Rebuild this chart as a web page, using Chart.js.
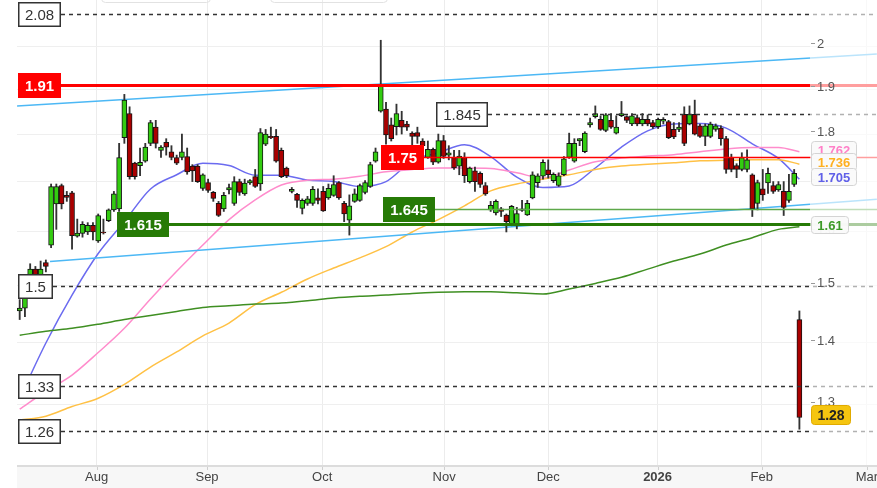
<!DOCTYPE html>
<html>
<head>
<meta charset="utf-8">
<script src="https://cdn.jsdelivr.net/npm/chart.js@4.4.1/dist/chart.umd.min.js"></script>
<style>
  html, body { margin: 0; padding: 0; background: #fff; }
  #wrap { width: 877px; height: 488px; position: relative; }
</style>
</head>
<body>
<div id="wrap"><canvas id="chart"></canvas></div>
<script>
// daily candles, index 0 = first session on screen
const opens = [1.455,1.46,1.49,1.53,1.515,1.542,1.575,1.655,1.692,1.672,
  1.677,1.592,1.597,1.6,1.613,1.583,1.6,1.622,1.643,1.645,
  1.792,1.845,1.738,1.733,1.742,1.78,1.815,1.765,1.782,1.762,
  1.75,1.75,1.752,1.732,1.732,1.686,1.698,1.678,1.656,1.645,
  1.683,1.656,1.7,1.675,1.697,1.71,1.695,1.778,1.795,1.795,
  1.765,1.728,1.68,1.674,1.646,1.656,1.656,1.667,1.68,1.667,
  1.672,1.698,1.656,1.623,1.66,1.662,1.678,1.69,1.742,1.85,
  1.855,1.82,1.816,1.83,1.822,1.802,1.803,1.785,1.75,1.767,
  1.74,1.786,1.755,1.75,1.732,1.75,1.7,1.722,1.717,1.692,
  1.643,1.637,1.645,1.633,1.616,1.612,1.645,1.633,1.667,1.698,
  1.711,1.724,1.702,1.692,1.714,1.75,1.742,1.785,1.762,1.82,
  1.838,1.832,1.808,1.83,1.802,1.84,1.838,1.822,1.836,1.822,
  1.832,1.825,1.816,1.828,1.827,1.81,1.81,1.843,1.822,1.843,
  1.818,1.795,1.795,1.81,1.813,1.79,1.75,1.733,1.725,1.725,
  1.714,1.656,1.685,1.697,1.692,1.683,1.68,1.662,1.694,1.44];
const highs = [1.475,1.49,1.54,1.535,1.545,1.547,1.695,1.695,1.695,1.68,
  1.68,1.625,1.62,1.618,1.618,1.635,1.625,1.645,1.68,1.78,
  1.888,1.86,1.74,1.77,1.78,1.83,1.83,1.775,1.79,1.775,
  1.755,1.8,1.77,1.735,1.735,1.716,1.705,1.68,1.66,1.678,
  1.695,1.71,1.705,1.705,1.704,1.725,1.812,1.81,1.815,1.81,
  1.77,1.73,1.688,1.676,1.665,1.67,1.69,1.685,1.69,1.695,
  1.712,1.7,1.66,1.673,1.685,1.695,1.702,1.74,1.77,2.015,
  1.87,1.835,1.866,1.85,1.828,1.805,1.815,1.79,1.785,1.77,
  1.8,1.797,1.775,1.765,1.765,1.76,1.73,1.73,1.72,1.698,
  1.66,1.663,1.648,1.635,1.652,1.648,1.662,1.662,1.72,1.716,
  1.745,1.745,1.718,1.718,1.752,1.802,1.79,1.79,1.805,1.835,
  1.862,1.84,1.845,1.845,1.84,1.872,1.84,1.845,1.842,1.845,
  1.842,1.83,1.835,1.836,1.83,1.825,1.825,1.86,1.862,1.875,
  1.822,1.822,1.826,1.822,1.818,1.795,1.757,1.737,1.76,1.766,
  1.716,1.703,1.725,1.728,1.7,1.7,1.7,1.715,1.725,1.455];
const lows = [1.44,1.445,1.485,1.505,1.505,1.525,1.57,1.605,1.645,1.66,
  1.567,1.59,1.59,1.595,1.585,1.58,1.596,1.62,1.64,1.64,
  1.78,1.705,1.705,1.712,1.74,1.775,1.77,1.75,1.755,1.745,
  1.735,1.745,1.715,1.70,1.698,1.682,1.678,1.66,1.63,1.64,
  1.675,1.652,1.672,1.672,1.694,1.688,1.682,1.775,1.79,1.74,
  1.708,1.708,1.677,1.648,1.635,1.652,1.652,1.655,1.64,1.664,
  1.67,1.664,1.62,1.594,1.658,1.66,1.675,1.688,1.74,1.848,
  1.778,1.785,1.798,1.8,1.808,1.775,1.78,1.763,1.748,1.735,
  1.738,1.748,1.745,1.725,1.714,1.698,1.697,1.68,1.688,1.672,
  1.64,1.633,1.63,1.6,1.612,1.606,1.64,1.632,1.665,1.688,
  1.705,1.707,1.698,1.69,1.712,1.748,1.74,1.775,1.76,1.815,
  1.835,1.808,1.805,1.812,1.8,1.838,1.825,1.818,1.818,1.818,
  1.818,1.812,1.812,1.822,1.79,1.79,1.805,1.775,1.82,1.798,
  1.793,1.775,1.792,1.806,1.776,1.717,1.72,1.708,1.722,1.72,
  1.63,1.643,1.662,1.676,1.676,1.68,1.632,1.658,1.69,1.262];
const closes = [1.46,1.485,1.53,1.515,1.53,1.535,1.69,1.69,1.655,1.668,
  1.593,1.598,1.615,1.613,1.6,1.632,1.598,1.643,1.675,1.75,
  1.875,1.71,1.71,1.74,1.772,1.825,1.78,1.772,1.772,1.75,
  1.738,1.762,1.72,1.722,1.70,1.714,1.682,1.666,1.632,1.672,
  1.688,1.7,1.678,1.697,1.702,1.69,1.803,1.8,1.792,1.742,
  1.71,1.712,1.684,1.662,1.662,1.665,1.684,1.662,1.641,1.686,
  1.694,1.667,1.635,1.651,1.675,1.692,1.698,1.735,1.762,1.91,
  1.798,1.79,1.845,1.815,1.815,1.795,1.795,1.775,1.767,1.74,
  1.786,1.752,1.76,1.728,1.753,1.712,1.728,1.7,1.694,1.675,
  1.652,1.66,1.64,1.62,1.65,1.636,1.642,1.656,1.714,1.712,
  1.74,1.714,1.715,1.712,1.747,1.78,1.78,1.79,1.802,1.825,
  1.845,1.81,1.842,1.815,1.815,1.845,1.83,1.84,1.822,1.832,
  1.822,1.816,1.832,1.832,1.792,1.794,1.815,1.78,1.843,1.8,
  1.795,1.818,1.822,1.818,1.79,1.725,1.725,1.725,1.75,1.745,
  1.645,1.698,1.673,1.717,1.68,1.694,1.648,1.68,1.717,1.28];

const maIdx = [0,5,10,15,20,25,30,35,40,45,50,55,60,65,70,75,80,85,90,95,100,105,110,115,120,125,130,135,140,145,149];
const maBlue = [1.31,1.40,1.483,1.559,1.62,1.685,1.714,1.738,1.733,1.713,1.713,1.703,1.70,1.69,1.70,1.743,1.76,1.777,1.752,1.709,1.688,1.691,1.728,1.772,1.807,1.822,1.823,1.813,1.779,1.748,1.705];
const maPink = [1.293,1.321,1.347,1.384,1.425,1.476,1.526,1.575,1.624,1.663,1.693,1.703,1.705,1.711,1.72,1.725,1.728,1.728,1.727,1.718,1.707,1.724,1.741,1.749,1.753,1.756,1.762,1.768,1.771,1.771,1.762];
const maOrange = [1.276,1.282,1.297,1.31,1.332,1.36,1.385,1.412,1.434,1.466,1.488,1.512,1.532,1.551,1.572,1.60,1.624,1.651,1.681,1.695,1.705,1.714,1.725,1.732,1.736,1.739,1.743,1.744,1.745,1.745,1.736];
const maGreen = [1.413,1.42,1.425,1.432,1.44,1.447,1.454,1.461,1.464,1.467,1.469,1.473,1.478,1.481,1.483,1.486,1.488,1.489,1.489,1.487,1.485,1.494,1.504,1.515,1.53,1.545,1.558,1.575,1.589,1.605,1.61];

// month ticks (session index) and their labels
const monthPos = [14.7,35.8,57.8,81.1,101.0,121.9,141.8,161.9];
const monthNames = ['Aug','Sep','Oct','Nov','Dec','2026','Feb','Mar'];

const yTicks = [1.3,1.4,1.5,1.6,1.7,1.8,1.9,2];

// drawn price levels
const levelValues = [2.08,1.91,1.845,1.75,1.645,1.615,1.5,1.33,1.26];

// trend channel lines: [session, price] at both ends
const trendUpper = [[-0.5,1.862],[163.8,1.982]];
const trendLower = [[5.8,1.544],[163.8,1.664]];

// axis extents
const xMin = -0.516, xMax = 163.83;
const yMin = 1.2074, yMax = 2.115;

const FONT = "'Liberation Sans', Arial, sans-serif";
const GREEN_UP = '#33cc11';
const RED_DN = '#aa0000';

// how each level is drawn: where its tag sits (session index or 'left')
const levelStyle = [
  { dash: true, tag: 'plain', at: 'left' },
  { color: '#ff0000', width: 3, tag: '#ff0000', at: 'left' },
  { dash: true, tag: 'plain', at: 79.5 },
  { color: '#ff0000', width: 1.5, tag: '#ff0000', at: 69 },
  { color: '#5ea84a', width: 1.5, tag: '#267a06', at: 69.4 },
  { color: '#267a06', width: 3, tag: '#267a06', at: 18.5 },
  { dash: true, tag: 'plain', at: 'left' },
  { dash: true, tag: 'plain', at: 'left' },
  { dash: true, tag: 'plain', at: 'left' }
];

function roundRect(ctx, x, y, w, h, r) {
  ctx.beginPath();
  ctx.moveTo(x + r, y);
  ctx.lineTo(x + w - r, y);
  ctx.quadraticCurveTo(x + w, y, x + w, y + r);
  ctx.lineTo(x + w, y + h - r);
  ctx.quadraticCurveTo(x + w, y + h, x + w - r, y + h);
  ctx.lineTo(x + r, y + h);
  ctx.quadraticCurveTo(x, y + h, x, y + h - r);
  ctx.lineTo(x, y + r);
  ctx.quadraticCurveTo(x, y, x + r, y);
  ctx.closePath();
}

const overlayPlugin = {
  id: 'overlay',
  afterDatasetsDraw(chart) {
    const ctx = chart.ctx, xs = chart.scales.x, ys = chart.scales.y, area = chart.chartArea;
    ctx.save();

    // price levels with their tags
    levelValues.forEach((v, k) => {
      const st = levelStyle[k];
      const y = Math.round(ys.getPixelForValue(v)) + 0.5;
      const bold = st.tag !== 'plain';
      ctx.font = (bold ? 'bold ' : '') + '15px ' + FONT;
      const text = String(v);
      const w = Math.round(ctx.measureText(text).width) + 14;
      const h = 25;
      const bx = st.at === 'left' ? area.left + 1 : Math.round(xs.getPixelForValue(st.at));
      const by = Math.round(y - h / 2);

      ctx.beginPath();
      ctx.moveTo(bx + w, y);
      ctx.lineTo(area.right, y);
      if (st.dash) {
        ctx.setLineDash([4, 4]);
        ctx.strokeStyle = '#333';
        ctx.lineWidth = 1.5;
      } else {
        ctx.setLineDash([]);
        ctx.strokeStyle = st.color;
        ctx.lineWidth = st.width;
      }
      ctx.stroke();
      ctx.setLineDash([]);

      if (st.tag === 'plain') {
        ctx.fillStyle = '#fff';
        ctx.fillRect(bx, by, w, h);
        ctx.strokeStyle = '#333';
        ctx.lineWidth = 1.5;
        ctx.strokeRect(bx + 0.75, by + 0.75, w - 1.5, h - 1.5);
        ctx.fillStyle = '#333';
      } else {
        ctx.fillStyle = st.tag;
        ctx.fillRect(bx, by, w, h);
        ctx.fillStyle = '#fff';
      }
      ctx.textAlign = 'center';
      ctx.textBaseline = 'middle';
      ctx.fillText(text, bx + w / 2, by + h / 2 + 1);
    });

    // faded band where the price scale sits
    const bandX = 810;
    ctx.fillStyle = 'rgba(255,255,255,0.62)';
    ctx.fillRect(bandX, area.top, area.right - bandX, area.bottom - area.top);

    // price scale labels
    ctx.font = '13px ' + FONT;
    ctx.textAlign = 'left';
    ctx.textBaseline = 'middle';
    yTicks.forEach(v => {
      const y = ys.getPixelForValue(v);
      ctx.strokeStyle = '#999';
      ctx.lineWidth = 1;
      ctx.beginPath();
      ctx.moveTo(bandX + 1, Math.round(y - 3) + 0.5);
      ctx.lineTo(bandX + 5, Math.round(y - 3) + 0.5);
      ctx.stroke();
      ctx.fillStyle = '#555';
      ctx.fillText(String(v), bandX + 7, y - 2);
    });

    // last values of the averages and the price
    const tags = [
      { v: maPink.at(-1), color: '#ff80c8', fill: 'rgba(250,250,250,0.96)', border: '#d4d4d4', size: 13 },
      { v: maOrange.at(-1), color: '#ffb020', fill: 'rgba(250,250,250,0.96)', border: '#d4d4d4', size: 13 },
      { v: maBlue.at(-1), color: '#6060e8', fill: 'rgba(250,250,250,0.96)', border: '#d4d4d4', size: 13 },
      { v: maGreen.at(-1), color: '#3c9a28', fill: 'rgba(250,250,250,0.96)', border: '#d4d4d4', size: 13 },
      { v: closes.at(-1), color: '#222', fill: '#f5c510', border: '#e0aa00', size: 14 }
    ];
    tags.forEach(t => {
      ctx.font = 'bold ' + t.size + 'px ' + FONT;
      const text = String(t.v);
      const w = Math.round(ctx.measureText(text).width) + 12;
      const h = t.size === 14 ? 19 : 17;
      const cy = ys.getPixelForValue(t.v) - 2.5;
      const x = bandX + 1;
      roundRect(ctx, x + 0.5, Math.round(cy - h / 2) + 0.5, w, h, 3);
      ctx.fillStyle = t.fill;
      ctx.fill();
      ctx.strokeStyle = t.border;
      ctx.lineWidth = 1;
      ctx.stroke();
      ctx.fillStyle = t.color;
      ctx.textAlign = 'center';
      ctx.fillText(text, x + 0.5 + w / 2, Math.round(cy - h / 2) + h / 2 + 1.5);
    });

    ctx.restore();
  },
  afterDraw(chart) {
    const ctx = chart.ctx, xs = chart.scales.x, area = chart.chartArea;
    ctx.save();
    // time axis strip
    ctx.fillStyle = '#f7f7f7';
    ctx.fillRect(area.left, area.bottom, area.right - area.left, chart.height - area.bottom);
    ctx.fillStyle = '#dcdcdc';
    ctx.fillRect(area.left, area.bottom - 1, area.right - area.left, 2);
    ctx.textAlign = 'center';
    ctx.textBaseline = 'middle';
    monthPos.forEach((p, k) => {
      const x = xs.getPixelForValue(p);
      ctx.fillStyle = '#cfcfcf';
      ctx.fillRect(Math.round(x), area.bottom + 1, 1, 3);
      ctx.font = (monthNames[k] === '2026' ? 'bold ' : '') + '13px ' + FONT;
      ctx.fillStyle = '#444';
      ctx.fillText(monthNames[k], x, area.bottom + 11.5);
    });
    // clipped toolbar boxes at the top
    ctx.strokeStyle = '#e2e2e2';
    ctx.lineWidth = 1;
    roundRect(ctx, 101.5, -20.5, 109, 23, 4);
    ctx.stroke();
    roundRect(ctx, 270.5, -20.5, 117, 23, 4);
    ctx.stroke();
    ctx.restore();
  }
};

const sessions = opens.map((_, i) => i);
const bodyColors = sessions.map(i => closes[i] >= opens[i] ? GREEN_UP : RED_DN);

function maSet(values, color) {
  return {
    type: 'line',
    data: maIdx.map((x, k) => ({ x: x, y: values[k] })),
    borderColor: color,
    borderWidth: 1.5,
    pointRadius: 0,
    cubicInterpolationMode: 'monotone',
    order: 10
  };
}
function trendSet(pts) {
  return {
    type: 'line',
    data: pts.map(p => ({ x: p[0], y: p[1] })),
    borderColor: '#4cb8f5',
    borderWidth: 1.5,
    pointRadius: 0,
    order: 9
  };
}

const ctx = document.getElementById('chart').getContext('2d');
new Chart(ctx, {
  type: 'bar',
  data: {
    datasets: [
      maSet(maGreen, '#3f8f22'),
      maSet(maOrange, '#ffc145'),
      maSet(maPink, '#ff8ccc'),
      maSet(maBlue, '#6b6bf0'),
      trendSet(trendUpper),
      trendSet(trendLower),
      {
        data: sessions.map(i => ({ x: i, y: [lows[i], highs[i]] })),
        backgroundColor: '#333',
        borderWidth: 0,
        barThickness: 1.2,
        grouped: false,
        order: 3
      },
      {
        data: sessions.map(i => ({ x: i, y: [Math.min(opens[i], closes[i]), Math.max(opens[i], closes[i])] })),
        backgroundColor: bodyColors,
        borderColor: '#151515',
        borderWidth: 1,
        borderSkipped: false,
        barThickness: 5,
        grouped: false,
        order: 2
      }
    ]
  },
  options: {
    responsive: true,
    maintainAspectRatio: false,
    animation: false,
    layout: { padding: { left: 17, right: 0, top: 0, bottom: 0 } },
    plugins: { legend: { display: false }, tooltip: { enabled: false } },
    scales: {
      x: {
        type: 'linear',
        min: xMin,
        max: xMax,
        offset: false,
        afterBuildTicks: s => { s.ticks = monthPos.map(v => ({ value: v })); },
        afterFit: s => { s.height = 22; },
        ticks: { display: false },
        grid: { color: '#ececec', drawTicks: false, offset: false },
        border: { display: false }
      },
      y: {
        type: 'logarithmic',
        position: 'left',
        min: yMin,
        max: yMax,
        afterBuildTicks: s => { s.ticks = yTicks.map(v => ({ value: v })); },
        afterFit: s => { s.width = 0; },
        ticks: { display: false },
        grid: { color: '#efefef', drawTicks: false },
        border: { display: false }
      }
    }
  },
  plugins: [overlayPlugin]
});
</script>
</body>
</html>
